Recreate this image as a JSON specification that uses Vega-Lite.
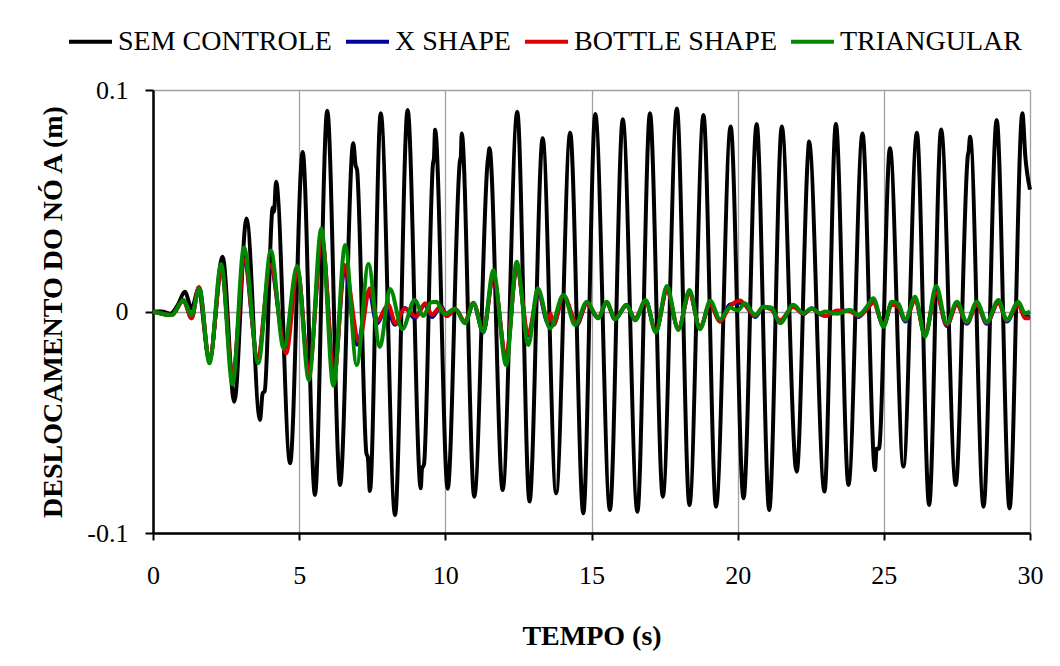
{
"$schema": "https://vega.github.io/schema/vega-lite/v6.json",
"width": 877, "height": 443,
"autosize": {"type": "none"},
"padding": {"left": 153, "top": 90, "right": 30, "bottom": 133},
"background": "white",
"config": {"view": {"stroke": null}, "font": "Liberation Serif",
  "legend": {"labelFont": "Liberation Serif", "labelFontSize": 28, "labelColor": "black"}},
"datasets": {
"sem": [{"t":0,"v":0},{"t":0.3,"v":0},{"t":0.6,"v":-0.001},{"t":0.85,"v":0.003},{"t":1.09,"v":0.0089},{"t":1.32,"v":0.0014},{"t":1.55,"v":0.0097},{"t":1.93,"v":-0.022},{"t":2.38,"v":0.0247},{"t":2.78,"v":-0.0407},{"t":3.2,"v":0.042},{"t":3.66,"v":-0.049},{"t":3.75,"v":-0.037},{"t":3.82,"v":-0.036},{"t":4.1,"v":0.047},{"t":4.14,"v":0.045},{"t":4.21,"v":0.0586},{"t":4.69,"v":-0.0685},{"t":5.12,"v":0.072},{"t":5.54,"v":-0.0828},{"t":5.96,"v":0.0906},{"t":6.4,"v":-0.0783},{"t":6.85,"v":0.076},{"t":6.93,"v":0.066},{"t":6.98,"v":0.064},{"t":7.3,"v":-0.064},{"t":7.35,"v":-0.066},{"t":7.42,"v":-0.081},{"t":7.79,"v":0.0895},{"t":8.28,"v":-0.0919},{"t":8.71,"v":0.091},{"t":9.16,"v":-0.0798},{"t":9.2,"v":-0.071},{"t":9.27,"v":-0.069},{"t":9.58,"v":0.067},{"t":9.61,"v":0.069},{"t":9.65,"v":0.082},{"t":10.08,"v":-0.08},{"t":10.5,"v":0.068},{"t":10.53,"v":0.07},{"t":10.56,"v":0.0804},{"t":10.99,"v":-0.0836},{"t":11.45,"v":0.068},{"t":11.47,"v":0.07},{"t":11.51,"v":0.0737},{"t":11.96,"v":-0.0806},{"t":12.46,"v":0.0902},{"t":12.88,"v":-0.0858},{"t":13.33,"v":0.0782},{"t":13.79,"v":-0.0821},{"t":14.27,"v":0.0807},{"t":14.72,"v":-0.0911},{"t":15.13,"v":0.0892},{"t":15.63,"v":-0.0896},{"t":16.07,"v":0.0868},{"t":16.57,"v":-0.0904},{"t":17.0,"v":0.0895},{"t":17.44,"v":-0.0836},{"t":17.92,"v":0.0917},{"t":18.35,"v":-0.0874},{"t":18.83,"v":0.0887},{"t":19.26,"v":-0.0881},{"t":19.76,"v":0.0835},{"t":20.2,"v":-0.0843},{"t":20.65,"v":0.0847},{"t":21.08,"v":-0.0896},{"t":21.51,"v":0.0835},{"t":21.98,"v":-0.07},{"t":22.02,"v":-0.0723},{"t":22.4,"v":0.07},{"t":22.44,"v":0.0767},{"t":22.97,"v":-0.0813},{"t":23.36,"v":0.0847},{"t":23.79,"v":-0.0783},{"t":24.27,"v":0.0804},{"t":24.7,"v":-0.0716},{"t":24.75,"v":-0.062},{"t":24.83,"v":-0.062},{"t":25.21,"v":0.0737},{"t":25.67,"v":-0.07},{"t":26.13,"v":0.0807},{"t":26.55,"v":-0.0874},{"t":26.96,"v":0.0822},{"t":27.46,"v":-0.0783},{"t":27.88,"v":0.071},{"t":27.9,"v":0.072},{"t":27.95,"v":0.0789},{"t":28.41,"v":-0.0881},{"t":28.86,"v":0.0865},{"t":29.3,"v":-0.0889},{"t":29.74,"v":0.0895},{"t":29.84,"v":0.07},{"t":30.0,"v":0.055}],
"xs": [{"t":0,"v":0},{"t":0.64,"v":-0.0016},{"t":1.04,"v":0.005},{"t":1.32,"v":-0.003},{"t":1.57,"v":0.011},{"t":1.93,"v":-0.022},{"t":2.35,"v":0.019},{"t":2.72,"v":-0.029},{"t":3.13,"v":0.022},{"t":3.58,"v":-0.021},{"t":4.02,"v":0.02},{"t":4.52,"v":-0.0165},{"t":4.95,"v":0.018},{"t":5.33,"v":-0.027},{"t":5.78,"v":0.032},{"t":6.2,"v":-0.028},{"t":6.55,"v":0.019},{"t":6.98,"v":-0.015},{"t":7.4,"v":0.009},{"t":7.65,"v":-0.0055},{"t":8.0,"v":0.002},{"t":8.28,"v":-0.006},{"t":8.62,"v":0.0016},{"t":8.95,"v":-0.003},{"t":9.3,"v":0.003},{"t":9.55,"v":-0.0025},{"t":9.85,"v":0.0025},{"t":10.05,"v":-0.002},{"t":10.35,"v":0.001},{"t":10.67,"v":-0.005},{"t":10.96,"v":0.0035},{"t":11.3,"v":-0.0095},{"t":11.64,"v":0.016},{"t":12.08,"v":-0.021},{"t":12.44,"v":0.02},{"t":12.84,"v":-0.011},{"t":13.18,"v":0.008},{"t":13.52,"v":-0.0055},{"t":13.62,"v":-0.002},{"t":13.7,"v":-0.006},{"t":14.04,"v":0.007},{"t":14.5,"v":-0.006},{"t":14.84,"v":0.0035},{"t":15.23,"v":-0.003},{"t":15.52,"v":0.004},{"t":15.8,"v":-0.0035},{"t":16.2,"v":0.003},{"t":16.49,"v":-0.004},{"t":16.85,"v":0.005},{"t":17.2,"v":-0.009},{"t":17.58,"v":0.0095},{"t":17.97,"v":-0.008},{"t":18.35,"v":0.0085},{"t":18.71,"v":-0.0075},{"t":19.06,"v":0.0035},{"t":19.4,"v":-0.0045},{"t":19.72,"v":0.003},{"t":20.08,"v":0.004},{"t":20.25,"v":0.003},{"t":20.6,"v":-0.0025},{"t":20.88,"v":0.002},{"t":21.15,"v":0.001},{"t":21.45,"v":-0.005},{"t":21.9,"v":0.0025},{"t":22.25,"v":-0.0012},{"t":22.53,"v":0.0015},{"t":22.82,"v":-0.0012},{"t":23.0,"v":-0.002},{"t":23.4,"v":0.0},{"t":23.85,"v":0.0005},{"t":24.13,"v":-0.0025},{"t":24.42,"v":0.0015},{"t":24.64,"v":0.0045},{"t":24.99,"v":-0.0065},{"t":25.27,"v":0.0035},{"t":25.5,"v":0.002},{"t":25.73,"v":-0.0045},{"t":26.07,"v":0.0055},{"t":26.41,"v":-0.0105},{"t":26.79,"v":0.009},{"t":27.15,"v":-0.0065},{"t":27.5,"v":0.0035},{"t":27.84,"v":-0.0055},{"t":28.18,"v":0.0035},{"t":28.52,"v":-0.0055},{"t":28.92,"v":0.0045},{"t":29.21,"v":-0.0045},{"t":29.6,"v":0.004},{"t":29.83,"v":-0.0025},{"t":30.0,"v":-0.002}],
"bottle": [{"t":0,"v":0},{"t":0.64,"v":-0.0016},{"t":1.04,"v":0.005},{"t":1.32,"v":-0.003},{"t":1.57,"v":0.011},{"t":1.93,"v":-0.022},{"t":2.35,"v":0.019},{"t":2.72,"v":-0.029},{"t":3.13,"v":0.023},{"t":3.58,"v":-0.0205},{"t":4.02,"v":0.021},{"t":4.55,"v":-0.019},{"t":4.95,"v":0.0185},{"t":5.33,"v":-0.028},{"t":5.78,"v":0.033},{"t":6.2,"v":-0.029},{"t":6.55,"v":0.021},{"t":7.05,"v":-0.0136},{"t":7.42,"v":0.0105},{"t":7.68,"v":-0.004},{"t":8.05,"v":0.003},{"t":8.3,"v":-0.0055},{"t":8.6,"v":0.0014},{"t":9.0,"v":-0.0023},{"t":9.31,"v":0.0037},{"t":9.54,"v":-0.0015},{"t":9.82,"v":0.002},{"t":10.05,"v":-0.002},{"t":10.35,"v":0.001},{"t":10.67,"v":-0.0045},{"t":10.96,"v":0.004},{"t":11.3,"v":-0.009},{"t":11.64,"v":0.016},{"t":12.08,"v":-0.02},{"t":12.44,"v":0.02},{"t":12.84,"v":-0.0098},{"t":13.18,"v":0.009},{"t":13.52,"v":-0.0046},{"t":13.6,"v":-0.001},{"t":13.7,"v":-0.006},{"t":14.04,"v":0.0072},{"t":14.5,"v":-0.0053},{"t":14.84,"v":0.0035},{"t":15.23,"v":-0.0025},{"t":15.52,"v":0.004},{"t":15.8,"v":-0.003},{"t":16.2,"v":0.0025},{"t":16.49,"v":-0.003},{"t":16.85,"v":0.0045},{"t":17.2,"v":-0.0085},{"t":17.58,"v":0.0095},{"t":17.97,"v":-0.0075},{"t":18.35,"v":0.008},{"t":18.71,"v":-0.007},{"t":19.06,"v":0.003},{"t":19.4,"v":-0.0045},{"t":19.72,"v":0.002},{"t":20.08,"v":0.005},{"t":20.25,"v":0.003},{"t":20.6,"v":-0.002},{"t":20.88,"v":0.002},{"t":21.15,"v":0.001},{"t":21.45,"v":-0.004},{"t":21.9,"v":0.002},{"t":22.25,"v":-0.001},{"t":22.53,"v":0.0012},{"t":22.82,"v":-0.001},{"t":23.0,"v":-0.002},{"t":23.4,"v":0.0005},{"t":23.85,"v":0.0},{"t":24.13,"v":-0.002},{"t":24.42,"v":0.001},{"t":24.64,"v":0.004},{"t":24.99,"v":-0.006},{"t":25.27,"v":0.003},{"t":25.5,"v":0.002},{"t":25.73,"v":-0.004},{"t":26.07,"v":0.005},{"t":26.41,"v":-0.01},{"t":26.79,"v":0.0085},{"t":27.15,"v":-0.006},{"t":27.5,"v":0.003},{"t":27.84,"v":-0.005},{"t":28.18,"v":0.003},{"t":28.52,"v":-0.005},{"t":28.92,"v":0.004},{"t":29.21,"v":-0.004},{"t":29.6,"v":0.003},{"t":29.83,"v":-0.003},{"t":30.0,"v":-0.003}],
"tri": [{"t":0,"v":0},{"t":0.64,"v":-0.0016},{"t":1.04,"v":0.0052},{"t":1.32,"v":-0.0016},{"t":1.59,"v":0.0105},{"t":1.93,"v":-0.0234},{"t":2.33,"v":0.0215},{"t":2.72,"v":-0.033},{"t":3.11,"v":0.029},{"t":3.6,"v":-0.0234},{"t":4.03,"v":0.0275},{"t":4.47,"v":-0.0167},{"t":4.93,"v":0.0205},{"t":5.33,"v":-0.031},{"t":5.76,"v":0.0376},{"t":6.17,"v":-0.0335},{"t":6.57,"v":0.03},{"t":6.97,"v":-0.0242},{"t":7.37,"v":0.0214},{"t":7.76,"v":-0.016},{"t":8.11,"v":0.0102},{"t":8.53,"v":-0.008},{"t":8.95,"v":0.0052},{"t":9.25,"v":-0.002},{"t":9.5,"v":0.004},{"t":9.7,"v":0.0044},{"t":9.95,"v":-0.001},{"t":10.05,"v":-0.0008},{"t":10.33,"v":0.0014},{"t":10.67,"v":-0.0053},{"t":10.96,"v":0.0037},{"t":11.3,"v":-0.0091},{"t":11.64,"v":0.0187},{"t":12.08,"v":-0.0242},{"t":12.44,"v":0.0225},{"t":12.84,"v":-0.0151},{"t":13.16,"v":0.0105},{"t":13.58,"v":-0.0076},{"t":14.04,"v":0.0074},{"t":14.44,"v":-0.0061},{"t":14.84,"v":0.0044},{"t":15.23,"v":-0.003},{"t":15.52,"v":0.0044},{"t":15.8,"v":-0.0035},{"t":16.2,"v":0.0029},{"t":16.49,"v":-0.0038},{"t":16.85,"v":0.0052},{"t":17.2,"v":-0.0095},{"t":17.58,"v":0.0115},{"t":17.97,"v":-0.0083},{"t":18.35,"v":0.0097},{"t":18.71,"v":-0.008},{"t":19.06,"v":0.0048},{"t":19.4,"v":-0.0035},{"t":19.72,"v":0.0018},{"t":20.0,"v":0.0005},{"t":20.25,"v":0.0037},{"t":20.6,"v":-0.0016},{"t":20.88,"v":0.0022},{"t":21.15,"v":0.0018},{"t":21.45,"v":-0.0053},{"t":21.9,"v":0.003},{"t":22.25,"v":-0.0008},{"t":22.53,"v":0.0014},{"t":22.82,"v":-0.0008},{"t":23.0,"v":0.0},{"t":23.4,"v":-0.001},{"t":23.85,"v":0.0007},{"t":24.13,"v":-0.0016},{"t":24.42,"v":0.0022},{"t":24.64,"v":0.006},{"t":24.99,"v":-0.0069},{"t":25.27,"v":0.0044},{"t":25.5,"v":0.0035},{"t":25.73,"v":-0.0038},{"t":26.07,"v":0.0067},{"t":26.41,"v":-0.0114},{"t":26.79,"v":0.0115},{"t":27.15,"v":-0.0053},{"t":27.5,"v":0.0044},{"t":27.84,"v":-0.0046},{"t":28.18,"v":0.0044},{"t":28.52,"v":-0.0046},{"t":28.92,"v":0.0052},{"t":29.21,"v":-0.0038},{"t":29.6,"v":0.0044},{"t":29.83,"v":-0.0008},{"t":30.0,"v":0.0}]
},
"encoding": {
  "x": {"field": "t", "type": "quantitative", "title": "TEMPO (s)",
    "scale": {"domain": [0, 30], "nice": false, "zero": false},
    "axis": {"values": [0,5,10,15,20,25,30], "grid": true, "gridColor": "#a0a0a0", "gridWidth": 1.3,
      "domainColor": "black", "domainWidth": 2.5, "tickColor": "black", "tickWidth": 2, "tickSize": 7,
      "labelFont": "Liberation Serif", "labelFontSize": 26, "labelColor": "black", "labelPadding": 22, "labelBaseline": "top",
      "labelFlush": false, "labelOverlap": false,
      "titleFont": "Liberation Serif", "titleFontSize": 28, "titleFontWeight": "bold", "titleColor": "black",
      "titleX": 438.5, "titleY": 111, "titleBaseline": "alphabetic", "titleAlign": "center"}},
  "y": {"field": "v", "type": "quantitative", "title": "DESLOCAMENTO DO NÓ A (m)",
    "scale": {"domain": [-0.1, 0.1], "nice": false, "zero": false},
    "axis": {"values": [-0.1, 0, 0.1], "grid": true, "gridColor": "#a0a0a0", "gridWidth": 1.3,
      "labelExpr": "replace(format(datum.value, '.1~f'), '\u2212', '-')",
      "domainColor": "black", "domainWidth": 2.5, "tickColor": "black", "tickWidth": 2, "tickSize": 8,
      "labelFont": "Liberation Serif", "labelFontSize": 26, "labelColor": "black", "labelPadding": 17,
      "labelFlush": false, "labelOverlap": false,
      "titleFont": "Liberation Serif", "titleFontSize": 28, "titleFontWeight": "bold", "titleColor": "black",
      "titleX": -92, "titleY": 221.5, "titleBaseline": "alphabetic", "titleAlign": "center", "titleAngle": -90}},
  "color": {"scale": {"domain": ["SEM CONTROLE", "X SHAPE", "BOTTLE SHAPE", "TRIANGULAR"], "range": ["#000000", "#00009c", "#dd0000", "#008800"]},
    "legend": {"orient": "none", "legendX": -86, "legendY": -72, "direction": "horizontal", "title": null,
      "symbolType": "stroke", "symbolSize": 1849, "symbolStrokeWidth": 4, "labelOffset": 4, "columnPadding": 6,
      "labelFont": "Liberation Serif", "labelFontSize": 28, "labelColor": "black", "labelLimit": 400, "padding": 0}}
},
"layer": [
  {"data": {"name": "sem"}, "mark": {"type": "line", "strokeWidth": 4, "strokeJoin": "round", "interpolate": "monotone"}, "encoding": {"color": {"datum": "SEM CONTROLE"}}},
  {"data": {"name": "xs"}, "mark": {"type": "line", "strokeWidth": 4, "strokeJoin": "round", "interpolate": "monotone"}, "encoding": {"color": {"datum": "X SHAPE"}}},
  {"data": {"name": "bottle"}, "mark": {"type": "line", "strokeWidth": 4, "strokeJoin": "round", "interpolate": "monotone"}, "encoding": {"color": {"datum": "BOTTLE SHAPE"}}},
  {"data": {"name": "tri"}, "mark": {"type": "line", "strokeWidth": 4, "strokeJoin": "round", "interpolate": "monotone"}, "encoding": {"color": {"datum": "TRIANGULAR"}}}
]
}
